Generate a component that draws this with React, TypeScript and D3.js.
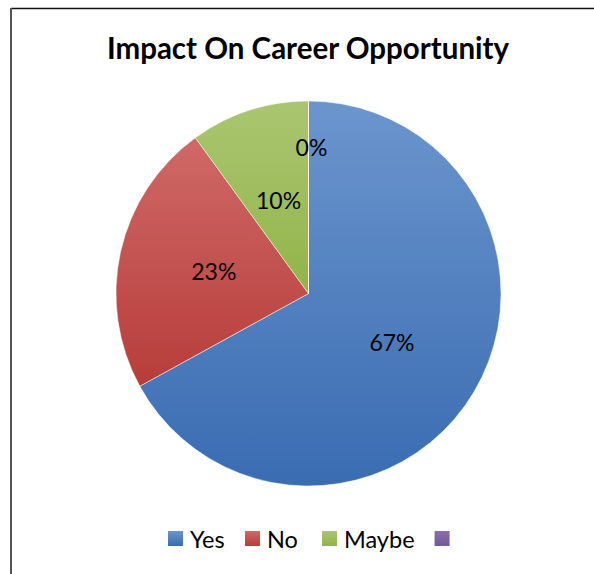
import { useEffect, useRef } from "react";
import * as d3 from "d3";

const categories = ["Yes", "No", "Maybe", ""];
const values = [67, 23, 10, 0];
const labels = ["67%", "23%", "10%", "0%"];
const colors = [
  ["#6b95cd", "#3a6cb2"],
  ["#cf6967", "#b73d3a"],
  ["#aac671", "#92b449"],
  ["#8a6fae", "#735797"],
];
const title = "Impact On Career Opportunity";

const width = 594,
  height = 574;
const font = "Lato, 'Open Sans', sans-serif";

const App = () => {
  const ref = useRef<SVGSVGElement | null>(null);

  useEffect(() => {
    if (!ref.current) return;
    const svg = d3.select(ref.current);
    svg.selectAll("*").remove();

    const defs = svg.append("defs");
    colors.forEach((c, i) => {
      const g = defs
        .append("linearGradient")
        .attr("id", `grad${i}`)
        .attr("x1", 0)
        .attr("y1", 0)
        .attr("x2", 0)
        .attr("y2", 1);
      g.append("stop").attr("offset", "0%").attr("stop-color", c[0]);
      g.append("stop").attr("offset", "100%").attr("stop-color", c[1]);
    });

    // frame
    svg
      .append("line")
      .attr("x1", 11)
      .attr("x2", width)
      .attr("y1", 8.5)
      .attr("y2", 8.5)
      .attr("stroke", "#111")
      .attr("stroke-width", 1.5);
    svg
      .append("line")
      .attr("x1", 11)
      .attr("x2", 11)
      .attr("y1", 8)
      .attr("y2", height)
      .attr("stroke", "#555")
      .attr("stroke-width", 2);

    svg
      .append("text")
      .attr("x", 308)
      .attr("y", 59)
      .attr("text-anchor", "middle")
      .attr("font-family", font)
      .attr("font-weight", "bold")
      .attr("font-size", 29.5)
      .attr("fill", "#000")
      .text(title);

    const cx = 308.5,
      cy = 293.5,
      r = 192.5;

    const pie = d3
      .pie<number>()
      .sort(null)
      .value((d) => d);
    const arcs = pie(values);
    const arc = d3.arc<d3.PieArcDatum<number>>().innerRadius(0).outerRadius(r);

    const g = svg.append("g").attr("transform", `translate(${cx},${cy})`);
    g.selectAll("path")
      .data(arcs)
      .enter()
      .append("path")
      .attr("d", arc)
      .attr("fill", (_, i) => `url(#grad${i})`)
      .attr("stroke", "#fff")
      .attr("stroke-opacity", 0.6)
      .attr("stroke-width", 0.8);

    const labelArc = d3
      .arc<d3.PieArcDatum<number>>()
      .innerRadius(97)
      .outerRadius(97);
    const zeroArc = d3
      .arc<d3.PieArcDatum<number>>()
      .innerRadius(146)
      .outerRadius(146);

    g.selectAll("text.lbl")
      .data(arcs)
      .enter()
      .append("text")
      .attr("class", "lbl")
      .attr("transform", (d) => {
        const [x, y] = d.value === 0 ? zeroArc.centroid(d) : labelArc.centroid(d);
        return `translate(${x + (d.value === 0 ? 3 : 0)},${y})`;
      })
      .attr("text-anchor", "middle")
      .attr("dy", "0.35em")
      .attr("font-family", font)
      .attr("font-size", 23)
      .attr("fill", "#000")
      .text((_, i) => labels[i]);

    // legend
    const legend = svg.append("g");
    let x = 168;
    categories.forEach((c, i) => {
      legend
        .append("rect")
        .attr("x", x)
        .attr("y", 531)
        .attr("width", 15)
        .attr("height", 15)
        .attr("fill", `url(#grad${i})`);
      const t = legend
        .append("text")
        .attr("x", x + 22)
        .attr("y", 548)
        .attr("font-family", font)
        .attr("font-size", 23.5)
        .attr("fill", "#000")
        .text(c);
      const w = (t.node() as SVGTextElement).getComputedTextLength();
      x += Math.max(77, w + 22 + 20);
    });
  }, []);

  return (
    <svg
      ref={ref}
      width={width}
      height={height}
      style={{ position: "absolute", left: 0, top: 0, background: "#fff" }}
    />
  );
};

export default App;
